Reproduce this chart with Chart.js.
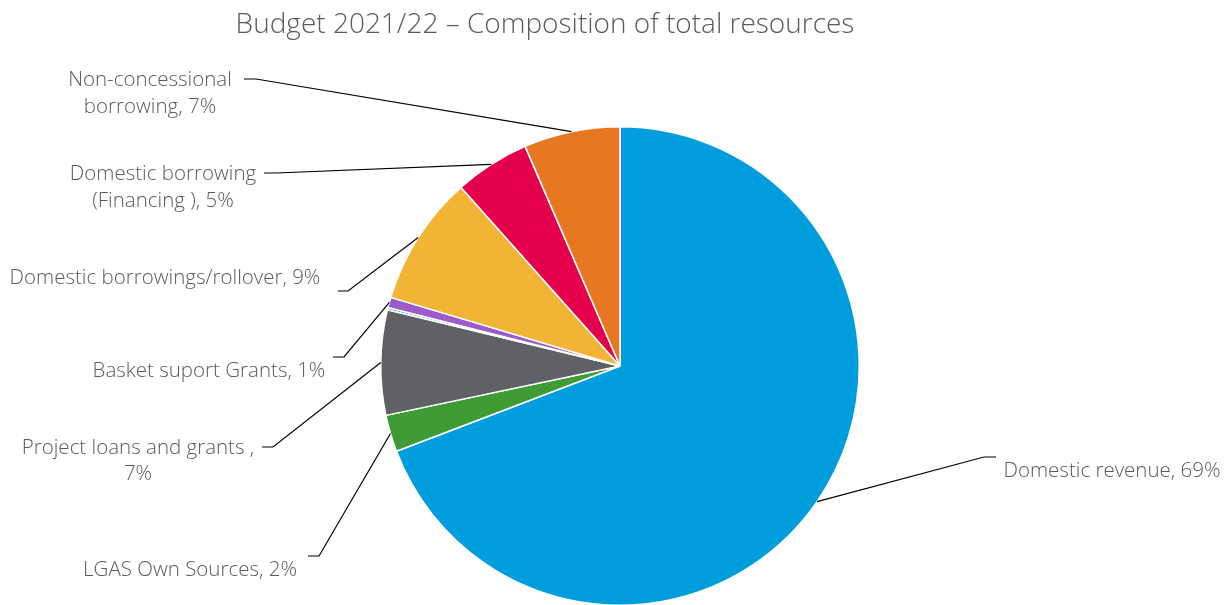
<!DOCTYPE html>
<html>
<head>
<meta charset="utf-8">
<script src="https://cdn.jsdelivr.net/npm/chart.js@4.4.0/dist/chart.umd.min.js"></script>
<style>
  html, body { margin: 0; padding: 0; background: #fff; overflow: hidden; }
  #wrap { width: 1227px; height: 606px; position: relative; }
</style>
</head>
<body>
<div id="wrap"><canvas id="chart_1"></canvas></div>
<script>
// slices, clockwise from 12 o'clock
var categories = ['Domestic revenue', 'LGAS Own Sources', 'Project loans and grants', 'Other',
  'Basket suport Grants', 'Domestic borrowings/rollover', 'Domestic borrowing (Financing)', 'Non-concessional borrowing'];
var shares = [69.3, 2.5, 7.1, 0.15, 0.7, 8.8, 5.1, 6.5];
var sliceLabels = [
  ['Domestic revenue, 69%'],
  ['LGAS Own Sources, 2%'],
  ['Project loans and grants ,', '7%'],
  null,
  ['Basket suport Grants, 1%'],
  ['Domestic borrowings/rollover, 9%'],
  ['Domestic borrowing', '(Financing ), 5%'],
  ['Non-concessional', 'borrowing, 7%']
];
var colors = ['#009ddc', '#3f9c35', '#606166', '#1aa99b', '#9d5bc9', '#f1b434', '#e4004b', '#e87722'];

// where each label sits: text centre x, line y's, elbow point, end of the short horizontal tick
var labelPos = [
  { tx: 1112, ty: [471], ex: 984, ey: 457, hx: 996 },
  { tx: 190, ty: [570], ex: 319, ey: 556, hx: 308 },
  { tx: 138, ty: [448, 474], ex: 273, ey: 447, hx: 262 },
  null,
  { tx: 209, ty: [371], ex: 344, ey: 357, hx: 333 },
  { tx: 165, ty: [278], ex: 348, ey: 291, hx: 338 },
  { tx: 163, ty: [174, 201], ex: 276, ey: 173, hx: 264 },
  { tx: 150, ty: [80, 107], ex: 256, ey: 79, hx: 244 }
];

var FONT = '"Open Sans", Lato, sans-serif';

var leaderLabels = {
  id: 'leaderLabels',
  afterDraw: function (chart) {
    var ctx = chart.ctx;
    var arcs = chart.getDatasetMeta(0).data;
    ctx.save();

    // title
    ctx.fillStyle = '#5b5b5b';
    ctx.font = '300 28px ' + FONT;
    ctx.textAlign = 'center';
    ctx.textBaseline = 'middle';
    ctx.fillText('Budget 2021/22 \u2013 Composition of total resources', 545, 25);

    for (var i = 0; i < arcs.length; i++) {
      var p = labelPos[i];
      if (!p || !sliceLabels[i]) continue;
      var a = arcs[i];
      var mid = (a.startAngle + a.endAngle) / 2;
      var sx = a.x + Math.cos(mid) * a.outerRadius;
      var sy = a.y + Math.sin(mid) * a.outerRadius;

      ctx.strokeStyle = '#000';
      ctx.lineWidth = 1.2;
      ctx.beginPath();
      ctx.moveTo(sx, sy);
      ctx.lineTo(p.ex, p.ey);
      ctx.lineTo(p.hx, p.ey);
      ctx.stroke();

      ctx.fillStyle = '#5b5b5b';
      ctx.font = '300 20.5px ' + FONT;
      ctx.textAlign = 'center';
      ctx.textBaseline = 'middle';
      for (var j = 0; j < sliceLabels[i].length; j++) {
        ctx.fillText(sliceLabels[i][j], p.tx, p.ty[j]);
      }
    }
    ctx.restore();
  }
};

var polarChart = new Chart(document.getElementById('chart_1'), {
  type: 'pie',
  data: {
    labels: categories,
    datasets: [{
      data: shares,
      backgroundColor: colors,
      borderColor: '#ffffff',
      borderWidth: 1.5
    }]
  },
  options: {
    responsive: true,
    maintainAspectRatio: false,
    animation: false,
    layout: { padding: { top: 126, bottom: 0, left: 380, right: 367 } },
    plugins: {
      legend: { display: false },
      tooltip: { enabled: false },
      title: { display: false }
    }
  },
  plugins: [leaderLabels]
});
</script>
</body>
</html>
